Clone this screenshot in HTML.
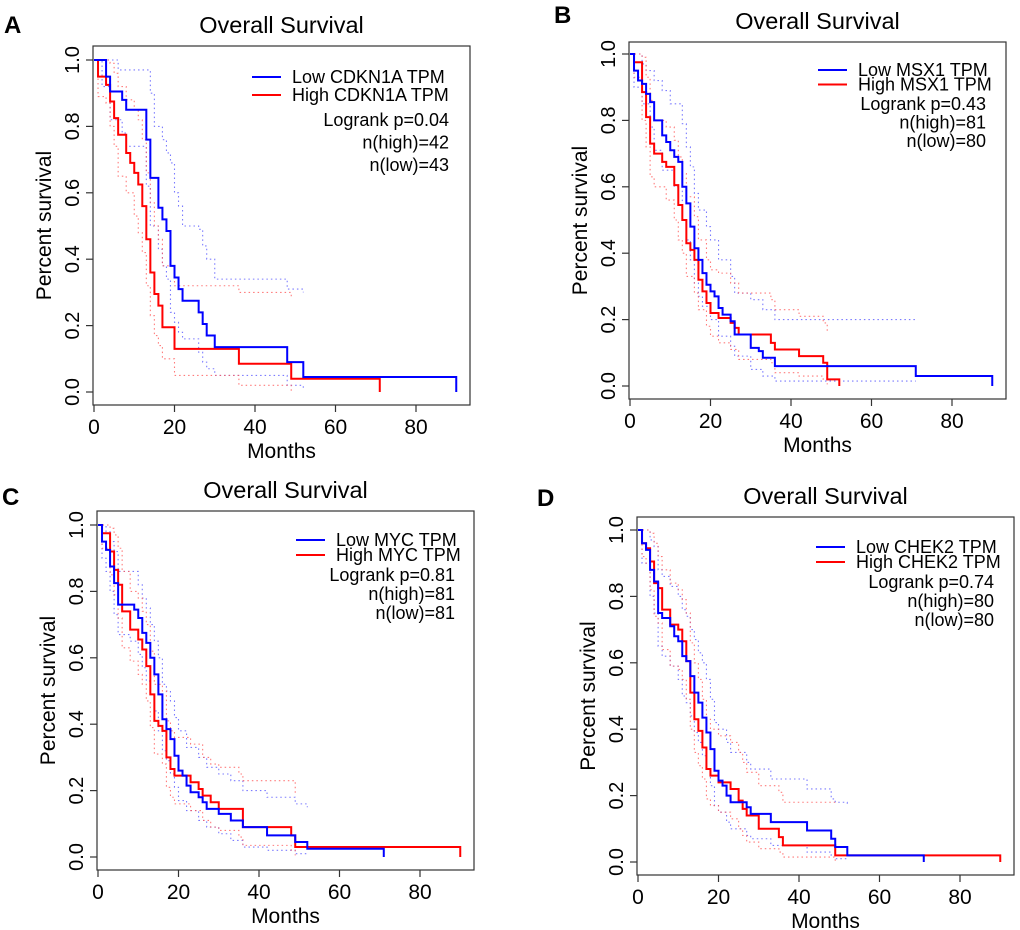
<!DOCTYPE html>
<html><head><meta charset="utf-8">
<style>
html,body{margin:0;padding:0;background:#fff;}
svg{display:block;font-family:"Liberation Sans",Arial,sans-serif;}
</style></head>
<body>
<svg id="fig" width="1020" height="930" viewBox="0 0 1020 930"></svg>
<script>
// ---------- DATA ----------
// Panel A (CDKN1A)
const aLow=[[3,0.95],[4,0.905],[7,0.88],[8,0.85],[13,0.76],[14,0.645],[16,0.555],[17,0.52],[18,0.485],[19,0.38],[20,0.345],[21,0.31],[22,0.275],[26,0.24],[27,0.205],[28,0.17],[30,0.135],[48,0.09],[52,0.045]];
const aLowEnd=90;
const aHigh=[[1,0.95],[3,0.925],[4,0.875],[5,0.825],[6,0.775],[8,0.72],[9,0.69],[10,0.66],[11,0.625],[12,0.56],[13,0.46],[14,0.36],[15,0.295],[16,0.26],[17,0.195],[20,0.13],[36,0.085],[49,0.04]];
const aHighEnd=71;
const aLowUp=[[6,0.97],[14,0.9],[15,0.8],[17,0.76],[18,0.72],[19,0.69],[20,0.6],[21,0.56],[22,0.5],[26,0.49],[27,0.44],[28,0.4],[30,0.34],[48,0.31],[52,0.3]];
const aLowLo=[[2,0.92],[4,0.82],[7,0.78],[8,0.74],[13,0.62],[14,0.5],[16,0.43],[17,0.38],[18,0.34],[19,0.24],[20,0.21],[21,0.18],[22,0.16],[26,0.12],[27,0.09],[28,0.07],[30,0.05],[48,0.02],[52,0.01]];
const aHighUp=[[4,0.99],[5,0.96],[6,0.92],[8,0.88],[10,0.85],[11,0.82],[12,0.76],[13,0.66],[14,0.57],[15,0.5],[16,0.46],[17,0.38],[20,0.32],[36,0.3],[49,0.28]];
const aHighLo=[[1,0.89],[3,0.87],[4,0.8],[5,0.74],[6,0.65],[8,0.6],[10,0.53],[11,0.48],[12,0.42],[13,0.32],[14,0.23],[15,0.17],[16,0.14],[17,0.1],[20,0.05],[36,0.02],[49,0.0]];
// Panel B (MSX1)
const bLow=[[1,0.95],[2,0.92],[3,0.91],[4,0.88],[5,0.855],[6,0.8],[8,0.755],[9,0.735],[10,0.71],[11,0.69],[12,0.675],[13,0.6],[14,0.55],[15,0.48],[16,0.415],[17,0.38],[18,0.34],[19,0.305],[20,0.285],[21,0.27],[22,0.235],[23,0.215],[25,0.195],[26,0.155],[30,0.115],[32,0.105],[33,0.085],[36,0.06],[71,0.03]];
const bLowEnd=90;
const bHigh=[[1,0.975],[3,0.885],[4,0.81],[5,0.73],[6,0.7],[8,0.675],[9,0.66],[11,0.605],[12,0.545],[13,0.5],[14,0.43],[15,0.41],[16,0.38],[17,0.32],[18,0.285],[19,0.25],[20,0.22],[22,0.205],[25,0.19],[26,0.175],[27,0.155],[35,0.13],[36,0.11],[42,0.09],[48,0.07],[49,0.02]];
const bHighEnd=52;
const bLowUp=[[3,0.97],[4,0.95],[6,0.92],[8,0.89],[10,0.85],[13,0.79],[14,0.72],[15,0.66],[16,0.58],[17,0.53],[19,0.48],[20,0.44],[22,0.38],[25,0.33],[26,0.28],[30,0.26],[33,0.23],[36,0.2],[71,0.2]];
const bLowLo=[[1,0.9],[3,0.85],[5,0.78],[6,0.71],[8,0.65],[11,0.6],[13,0.5],[14,0.44],[15,0.38],[16,0.31],[17,0.27],[18,0.24],[20,0.2],[22,0.15],[25,0.12],[26,0.09],[30,0.05],[33,0.03],[36,0.015],[71,0.015]];
const bHighUp=[[3,0.99],[4,0.93],[5,0.86],[6,0.8],[9,0.78],[11,0.74],[12,0.69],[13,0.64],[14,0.57],[16,0.51],[17,0.44],[19,0.38],[20,0.35],[22,0.34],[25,0.31],[27,0.28],[35,0.26],[36,0.23],[42,0.21],[48,0.19],[49,0.16]];
const bHighLo=[[1,0.93],[3,0.8],[4,0.72],[5,0.63],[6,0.6],[9,0.56],[11,0.5],[12,0.44],[13,0.4],[14,0.33],[16,0.28],[17,0.23],[19,0.18],[20,0.15],[22,0.13],[25,0.11],[27,0.08],[35,0.07],[36,0.04],[42,0.03],[48,0.02],[49,0.005]];
// Panel C (MYC)
const cLow=[[1,0.95],[2,0.925],[3,0.875],[4,0.825],[5,0.76],[9,0.745],[10,0.72],[11,0.675],[12,0.645],[13,0.6],[14,0.55],[15,0.49],[16,0.415],[17,0.385],[18,0.355],[19,0.305],[20,0.26],[21,0.245],[22,0.215],[23,0.195],[25,0.18],[26,0.165],[27,0.145],[30,0.13],[33,0.11],[36,0.09],[42,0.065],[49,0.045],[52,0.025]];
const cLowEnd=71;
const cHigh=[[1,0.975],[3,0.92],[4,0.865],[5,0.82],[6,0.74],[8,0.685],[10,0.655],[11,0.625],[12,0.575],[13,0.49],[14,0.41],[15,0.395],[16,0.38],[17,0.3],[18,0.265],[19,0.245],[23,0.225],[25,0.205],[26,0.185],[28,0.165],[30,0.145],[36,0.09],[48,0.065],[49,0.03]];
const cHighEnd=90;
const cLowUp=[[2,0.98],[3,0.95],[4,0.92],[5,0.86],[10,0.82],[11,0.78],[12,0.75],[13,0.7],[14,0.65],[15,0.6],[16,0.52],[17,0.5],[18,0.47],[19,0.42],[20,0.38],[22,0.33],[25,0.3],[27,0.27],[30,0.25],[33,0.23],[36,0.2],[42,0.18],[49,0.16],[52,0.15]];
const cLowLo=[[1,0.9],[2,0.86],[3,0.8],[4,0.73],[5,0.67],[8,0.65],[10,0.61],[11,0.57],[12,0.53],[13,0.49],[14,0.44],[15,0.38],[16,0.32],[17,0.29],[18,0.25],[19,0.21],[20,0.17],[22,0.14],[25,0.11],[27,0.09],[30,0.07],[33,0.05],[36,0.03],[42,0.02],[49,0.01],[52,0.005]];
const cHighUp=[[3,0.99],[4,0.97],[5,0.93],[6,0.86],[8,0.8],[10,0.78],[11,0.74],[12,0.7],[13,0.62],[14,0.52],[16,0.5],[17,0.41],[18,0.38],[19,0.36],[23,0.34],[26,0.3],[28,0.28],[30,0.27],[35,0.25],[36,0.23],[48,0.23],[49,0.19]];
const cHighLo=[[1,0.93],[3,0.85],[4,0.79],[5,0.72],[6,0.63],[8,0.59],[10,0.55],[11,0.52],[12,0.47],[13,0.39],[14,0.31],[16,0.28],[17,0.21],[18,0.18],[19,0.16],[23,0.14],[26,0.11],[28,0.09],[30,0.08],[35,0.06],[36,0.035],[48,0.02],[49,0.005]];
// Panel D (CHEK2)
const dLow=[[1,0.96],[2,0.94],[3,0.88],[4,0.845],[5,0.75],[6,0.735],[8,0.71],[9,0.68],[10,0.665],[11,0.62],[12,0.605],[13,0.56],[14,0.51],[15,0.48],[16,0.435],[17,0.39],[18,0.34],[19,0.275],[20,0.245],[21,0.23],[22,0.2],[23,0.18],[27,0.165],[28,0.145],[33,0.12],[42,0.095],[48,0.07],[49,0.045],[52,0.02]];
const dLowEnd=71;
const dHigh=[[1,0.96],[2,0.945],[3,0.905],[4,0.84],[5,0.825],[6,0.76],[8,0.715],[10,0.7],[11,0.665],[12,0.605],[13,0.51],[14,0.43],[15,0.395],[16,0.345],[17,0.28],[18,0.26],[20,0.24],[23,0.22],[25,0.185],[26,0.16],[27,0.14],[30,0.1],[35,0.075],[36,0.05],[49,0.02]];
const dHighEnd=90;
const dLowUp=[[3,0.97],[4,0.95],[5,0.88],[6,0.86],[8,0.83],[10,0.8],[11,0.76],[12,0.74],[13,0.7],[14,0.67],[15,0.63],[16,0.6],[17,0.55],[18,0.49],[19,0.42],[20,0.4],[22,0.36],[23,0.33],[27,0.3],[28,0.28],[33,0.25],[42,0.22],[48,0.19],[49,0.18],[52,0.17]];
const dLowLo=[[1,0.9],[3,0.8],[4,0.75],[5,0.65],[6,0.62],[8,0.59],[10,0.55],[11,0.5],[12,0.48],[13,0.44],[14,0.39],[15,0.36],[16,0.32],[17,0.28],[18,0.23],[19,0.17],[20,0.15],[22,0.12],[23,0.1],[27,0.08],[28,0.07],[33,0.05],[42,0.03],[48,0.02],[49,0.01],[52,0.005]];
const dHighUp=[[3,0.99],[4,0.96],[5,0.92],[6,0.88],[8,0.84],[10,0.82],[11,0.79],[12,0.75],[13,0.66],[14,0.6],[15,0.55],[16,0.49],[17,0.43],[18,0.4],[20,0.38],[23,0.36],[25,0.33],[26,0.3],[27,0.27],[30,0.23],[35,0.21],[36,0.18],[49,0.18]];
const dHighLo=[[1,0.92],[2,0.9],[3,0.82],[4,0.74],[5,0.72],[6,0.64],[8,0.59],[10,0.58],[11,0.55],[12,0.49],[13,0.4],[14,0.33],[15,0.29],[16,0.25],[17,0.19],[18,0.17],[20,0.15],[23,0.13],[25,0.1],[26,0.08],[27,0.06],[30,0.04],[35,0.03],[36,0.015],[49,0.0]];
const xTicks=[0,20,40,60,80];
const yTicks=[0,0.2,0.4,0.6,0.8,1.0];
const yTickLabels=["0.0","0.2","0.4","0.6","0.8","1.0"];

// ---------- DRAW ----------
const NS="http://www.w3.org/2000/svg";
const svg=document.getElementById('fig');
function el(tag,attrs,parent){const e=document.createElementNS(NS,tag);for(const k in attrs)e.setAttribute(k,attrs[k]);(parent||svg).appendChild(e);return e;}

const panels=[
 {id:'a',letter:'A',lx:4,ly:33,box:[93,46,470,405],x0:94,x80:416,y1:60,y0:392,gene:'CDKN1A',p:'0.04',nh:42,nl:43,
  leg:[252,77,18,449,120,22.5],low:aLow,lowEnd:aLowEnd,high:aHigh,highEnd:aHighEnd,bands:[aLowUp,aLowLo,aHighUp,aHighLo]},
 {id:'b',letter:'B',lx:554,ly:23,box:[629,42,1006,399],x0:630,x80:952,y1:54,y0:386,gene:'MSX1',p:'0.43',nh:81,nl:80,
  leg:[818,70,14.5,986,104,18.5],low:bLow,lowEnd:bLowEnd,high:bHigh,highEnd:bHighEnd,bands:[bLowUp,bLowLo,bHighUp,bHighLo]},
 {id:'c',letter:'C',lx:2,ly:505,box:[97,511,474,870],x0:98,x80:420,y1:525,y0:857,gene:'MYC',p:'0.81',nh:81,nl:81,
  leg:[296,540,15,455,575,19],low:cLow,lowEnd:cLowEnd,high:cHigh,highEnd:cHighEnd,bands:[cLowUp,cLowLo,cHighUp,cHighLo]},
 {id:'d',letter:'D',lx:537,ly:506,box:[637,517,1014,875],x0:638,x80:960,y1:530,y0:862,gene:'CHEK2',p:'0.74',nh:80,nl:80,
  leg:[816,547,15,994,582,19],low:dLow,lowEnd:dLowEnd,high:dHigh,highEnd:dHighEnd,bands:[dLowUp,dLowLo,dHighUp,dHighLo]}
];

panels.forEach(P=>{
  const g=el('g',{});
  
  
  const X=t=>P.x0+(P.x80-P.x0)*t/80;
  const Y=s=>P.y0+(P.y1-P.y0)*s;
  const [bl,bt,br,bb]=P.box;
  const L=el('text',{x:P.lx,y:P.ly,'font-size':24,'font-weight':'bold',fill:'#000'},g);L.textContent=P.letter;
  
  
  const T=el('text',{x:(bl+br)/2,y:bt-13,'font-size':23.5,'text-anchor':'middle',fill:'#000'},g);T.textContent='Overall Survival';
  
  
  const B=el('rect',{x:bl,y:bt,width:br-bl,height:bb-bt,fill:'none',stroke:'#333','stroke-width':1.2},g);
  
  
  xTicks.forEach(t=>{
    const tk=el('line',{x1:X(t),x2:X(t),y1:bb,y2:bb+7,stroke:'#333','stroke-width':1.2},g);
    
    
    const tl=el('text',{x:X(t),y:bb+29,'font-size':21,'text-anchor':'middle',fill:'#000'},g);tl.textContent=t;
    
    
  });
  yTicks.forEach((v,i)=>{
    const tk=el('line',{x1:bl-7,x2:bl,y1:Y(v),y2:Y(v),stroke:'#333','stroke-width':1.2},g);
    
    
    const tx=bl-14,ty=Y(v);
    const tl=el('text',{x:tx,y:ty,'font-size':20,'text-anchor':'middle',transform:`rotate(-90 ${tx} ${ty})`,fill:'#000'},g);
    tl.textContent=yTickLabels[i];
    
    
  });
  const xt=el('text',{x:(bl+br)/2,y:bb+53,'font-size':21,'text-anchor':'middle',fill:'#000'},g);xt.textContent='Months';
  
  
  const yx=bl-42,yy=(bt+bb)/2;
  const yt=el('text',{x:yx,y:yy,'font-size':21,'text-anchor':'middle',transform:`rotate(-90 ${yx} ${yy})`,fill:'#000'},g);yt.textContent='Percent survival';
  
  

  function stepPath(pts,end,drop){
    let d=`M${X(0)},${Y(1)}`;
    pts.forEach(([t,s])=>{d+=` H${X(t)} V${Y(s)}`;});
    const last=pts.length?pts[pts.length-1][0]:0;
    d+=` H${X(end!==undefined?end:last)}`;
    if(drop) d+=` V${Y(0)}`;
    return d;
  }
  const colors=['#5a5aff','#5a5aff','#ff5a5a','#ff5a5a'];
  const bnames=['low-ci-upper','low-ci-lower','high-ci-upper','high-ci-lower'];
  P.bands.forEach((b,i)=>{
    const pth=el('path',{d:stepPath(b),fill:'none',stroke:colors[i],'stroke-width':1.1,'stroke-dasharray':'1.5,3','opacity':0.8},g);
    
    
  });
  const hp=el('path',{d:stepPath(P.high,P.highEnd,true),fill:'none',stroke:'#ff0000','stroke-width':2},g);
  
  
  const lp=el('path',{d:stepPath(P.low,P.lowEnd,true),fill:'none',stroke:'#0000ff','stroke-width':2},g);
  
  

  const [lx,ly,gap,rx,sy,sg]=P.leg;
  [['Low '+P.gene+' TPM','#0000ff'],['High '+P.gene+' TPM','#ff0000']].forEach((e,i)=>{
    const yy2=ly+i*gap;
    const ln=el('line',{x1:lx,x2:lx+29,y1:yy2,y2:yy2,stroke:e[1],'stroke-width':2},g);
    
    
    const tx=el('text',{x:lx+40,y:yy2+6,'font-size':18,fill:'#000'},g);tx.textContent=e[0];
    
    
  });
  ['Logrank p='+P.p,'n(high)='+P.nh,'n(low)='+P.nl].forEach((s,i)=>{
    const tx=el('text',{x:rx,y:sy+i*sg+6,'font-size':18,'text-anchor':'end',fill:'#000'},g);tx.textContent=s;
    
    
  });
});
</script>
</body></html>
